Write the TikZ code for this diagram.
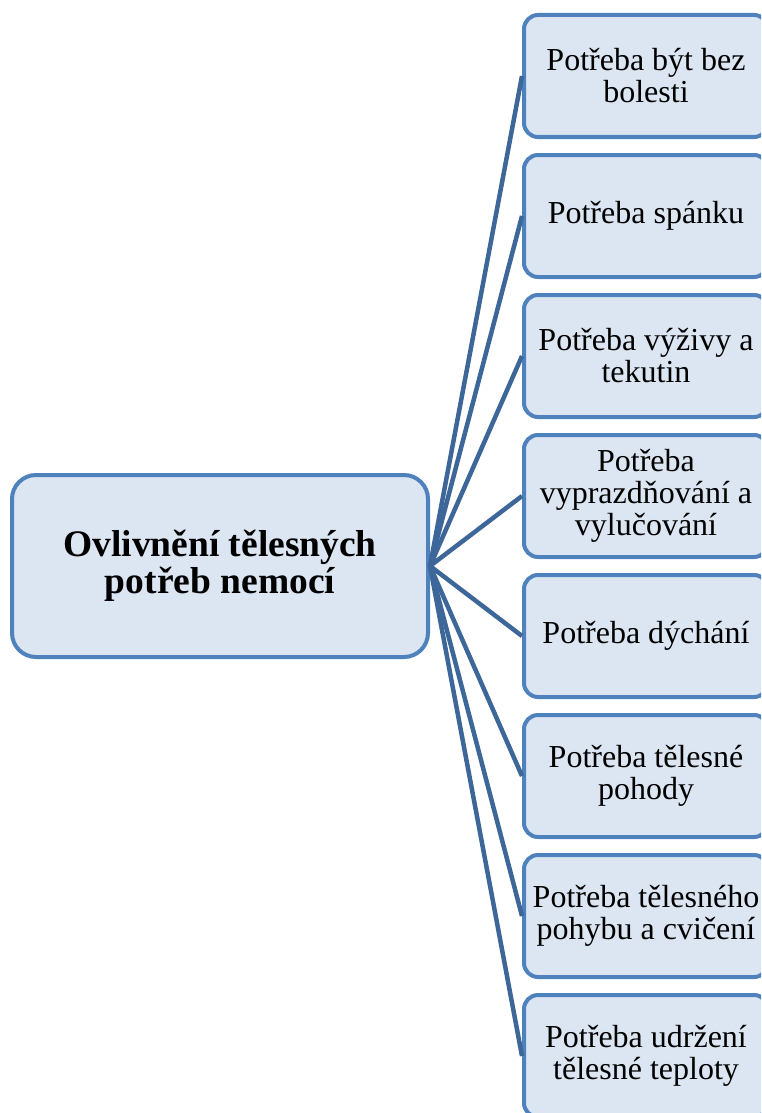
\documentclass[tikz,border=0pt]{standalone}
\usepackage{fontspec}
\setmainfont{Liberation Serif}
\definecolor{boxblue}{HTML}{4F81BD}
\definecolor{boxfill}{HTML}{DCE6F2}
\definecolor{linkblue}{HTML}{3D6699}

\begin{document}
\begin{tikzpicture}[x=1pt,y=-1pt,
  box/.style={draw=boxblue, fill=boxfill, line width=4pt, inner sep=0pt, align=center},
  need/.style={box, rounded corners=14pt, minimum width=244pt, minimum height=122pt,
    font=\fontsize{32}{32}\selectfont},
  hub/.style={box, rounded corners=24pt, minimum width=416pt, minimum height=182pt,
    font=\bfseries\fontsize{37.5}{37}\selectfont},
  link/.style={draw=linkblue, line width=4.5pt}]
\useasboundingbox (0,0) rectangle (761,1113);
\clip (0,0) rectangle (761,1113);

\node[hub] (hub) at (220,566) {Ovlivnění tělesných\\potřeb nemocí};

\foreach \txt [count=\i from 0] in {%
    {Potřeba být bez\\bolesti},
    {Potřeba spánku},
    {Potřeba výživy a\\tekutin},
    {Potřeba\\vyprazdňování a\\vylučování},
    {Potřeba dýchání},
    {Potřeba tělesné\\pohody},
    {Potřeba tělesného\\pohybu a cvičení},
    {Potřeba udržení\\tělesné teploty}}{
  \node[need] (n\i) at (646,76+140*\i) {\txt};
  \draw[link] (hub.east) -- (n\i.west);
}
\end{tikzpicture}
\end{document}
